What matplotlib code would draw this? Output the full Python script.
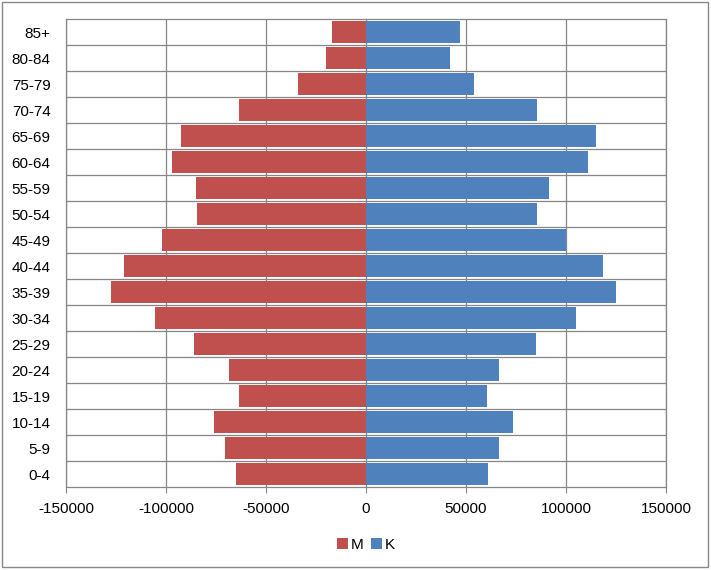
import matplotlib
matplotlib.use("Agg")
import matplotlib.pyplot as plt
from matplotlib.patches import Rectangle

# age groups, bottom to top
groups = ['0-4', '5-9', '10-14', '15-19', '20-24', '25-29', '30-34', '35-39',
          '40-44', '45-49', '50-54', '55-59', '60-64', '65-69', '70-74',
          '75-79', '80-84', '85+']
# men (negative side) and women
men = [-64900, -70300, -76200, -63300, -68700, -86200, -105700, -127700,
       -120900, -101800, -84400, -84800, -96800, -92300, -63700, -34200,
       -20200, -17200]
women = [61200, 66700, 73300, 60300, 66700, 84800, 105200, 125200,
         118400, 100200, 85300, 91400, 110900, 114800, 85700, 54200,
         42200, 47200]
xticks = [-150000, -100000, -50000, 0, 50000, 100000, 150000]

red = '#C0504D'
blue = '#4F81BD'
grid_c = '#868686'

plt.rcParams['font.family'] = ['Liberation Sans', 'DejaVu Sans']
fs = 11

fig = plt.figure(figsize=(7.11, 5.70), dpi=100, facecolor='w')
ax = fig.add_axes([66/711, 1-487/570, 600/711, 468/570])

pos = list(range(len(groups)))
ax.barh(pos, men, height=0.84, color=red, zorder=3, label='M')
ax.barh(pos, women, height=0.84, color=blue, zorder=3, label='K')

ax.set_xlim(-150000, 150000)
ax.set_ylim(-0.5, len(groups)-0.5)
ax.set_xticks(xticks)
ax.set_xticklabels([str(v) for v in xticks], fontsize=fs)
ax.set_yticks(pos)
ax.set_yticklabels(groups, fontsize=fs)
ax.tick_params(axis='y', length=0, pad=11)
ax.tick_params(axis='x', length=4, color=grid_c, pad=7)

# gridlines at category boundaries and every 50000
ax.set_yticks([p + 0.5 for p in pos[:-1]], minor=True)
ax.tick_params(axis='y', which='minor', length=0)
ax.grid(True, which='minor', axis='y', color=grid_c, lw=0.9, zorder=1)
ax.grid(True, which='major', axis='x', color=grid_c, lw=0.9, zorder=1)
for s in ax.spines.values():
    s.set_color(grid_c)
    s.set_linewidth(0.9)

ax.legend(loc='upper center', bbox_to_anchor=(0.5, -0.08), ncol=2,
          frameon=False, fontsize=fs, handlelength=0.7, handleheight=0.7,
          handletextpad=0.2, columnspacing=0.5)

fig.patches.append(Rectangle((2/711, 3/570), 706/711, 565/570,
                             transform=fig.transFigure, fill=False,
                             edgecolor='#888888', lw=1.0))

fig.savefig('out.png', dpi=100)
